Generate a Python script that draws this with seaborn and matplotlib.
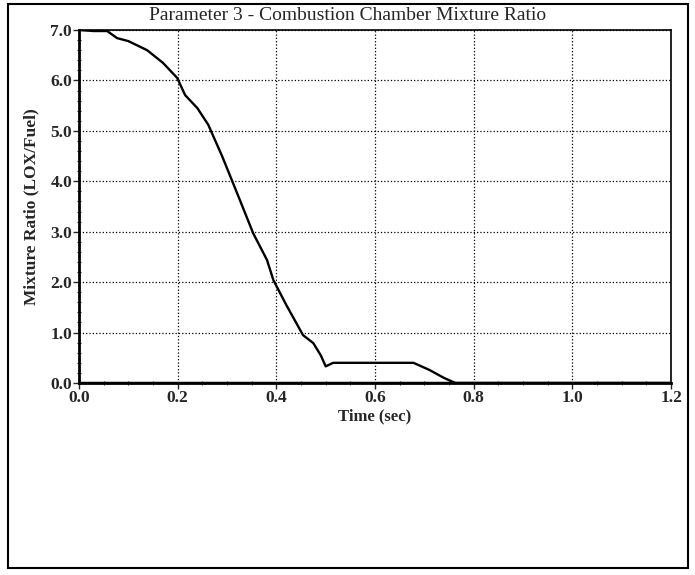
import numpy as np
import pandas as pd
import seaborn as sns
import matplotlib.pyplot as plt
from matplotlib.patches import Rectangle
from matplotlib.ticker import MultipleLocator

# values
time_sec = [0.0, 0.03, 0.057, 0.077, 0.10, 0.138, 0.17, 0.199, 0.215, 0.24, 0.262,
            0.29, 0.326, 0.353, 0.381, 0.394, 0.42, 0.454, 0.475, 0.49, 0.50,
            0.515, 0.60, 0.678, 0.71, 0.74, 0.763, 0.80, 1.0, 1.2]
mix_ratio = [7.0, 6.98, 6.98, 6.84, 6.78, 6.6, 6.35, 6.05, 5.71, 5.45, 5.12,
             4.5, 3.63, 2.97, 2.44, 2.04, 1.55, 0.95, 0.79, 0.55, 0.33,
             0.4, 0.4, 0.4, 0.26, 0.1, 0.0, 0.0, 0.0, 0.0]

x_ticks = [0.0, 0.2, 0.4, 0.6, 0.8, 1.0, 1.2]
y_ticks = [0.0, 1.0, 2.0, 3.0, 4.0, 5.0, 6.0, 7.0]

df = pd.DataFrame({'Time (sec)': time_sec, 'Mixture Ratio': mix_ratio})

sns.set_style('white')
plt.rcParams['font.family'] = ['Liberation Serif', 'DejaVu Serif']

fig = plt.figure(figsize=(6.95, 5.75), dpi=100)
ax = fig.add_axes([0.1137, 0.3339, 0.8518, 0.6139])

sns.lineplot(data=df, x='Time (sec)', y='Mixture Ratio', color='black', lw=1.7, ax=ax)
ax.axhline(0, color='black', lw=2.5, zorder=5)

ax.set_xlim(0, 1.2)
ax.set_ylim(0, 7.0)
ax.set_xticks(x_ticks)
ax.set_yticks(y_ticks)
ax.set_xticklabels(['%.1f' % v for v in x_ticks], fontweight='bold', fontsize=12.5)
ax.set_yticklabels(['%.1f' % v for v in y_ticks], fontweight='bold', fontsize=12.5)
ax.xaxis.set_minor_locator(MultipleLocator(0.05))
ax.yaxis.set_minor_locator(MultipleLocator(0.2))
ax.tick_params(which='major', direction='out', length=4, width=1, pad=1)
ax.tick_params(which='minor', direction='inout', length=3, width=0.8)
ax.tick_params(axis='both', which='both', bottom=True, left=True)
ax.grid(True, which='major', color='black', linestyle=':', lw=0.9)

for s in ax.spines.values():
    s.set_color('black')
ax.spines['left'].set_linewidth(2)
ax.spines['bottom'].set_linewidth(2)
ax.spines['top'].set_linewidth(1.2)
ax.spines['right'].set_linewidth(1.2)

ax.set_xlabel('Time (sec)', fontweight='bold', fontsize=12, labelpad=2)
ax.set_ylabel('Mixture Ratio (LOX/Fuel)', fontweight='bold', fontsize=12.5, labelpad=8)

fig.text(0.5, 1 - 15 / 575, 'Parameter 3 - Combustion Chamber Mixture Ratio',
         ha='center', va='center', fontsize=14)

# outer frame
fig.patches.append(Rectangle((8 / 695, 1 - 568 / 575), 680 / 695, 564 / 575,
                             transform=fig.transFigure, fill=False,
                             edgecolor='black', lw=1.5))

fig.savefig('out.png', dpi=100)
